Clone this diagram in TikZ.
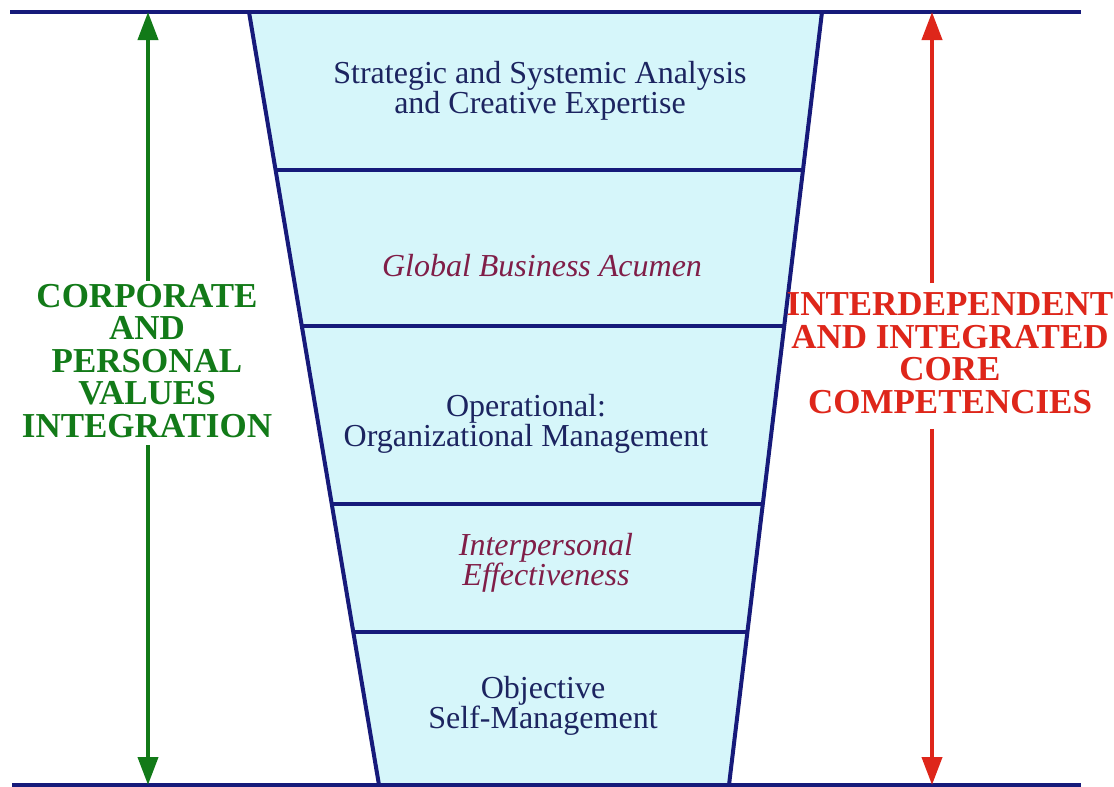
\documentclass[tikz,border=0pt]{standalone}
\usepackage{fontspec}
\setmainfont{Liberation Serif}
\usepackage{xcolor}
\usetikzlibrary{arrows.meta,calc}

\definecolor{navy}{RGB}{22,26,122}
\definecolor{funnelfill}{RGB}{214,246,250}
\definecolor{valgreen}{RGB}{18,122,24}
\definecolor{compred}{RGB}{222,38,26}
\definecolor{textnavy}{RGB}{28,36,96}
\definecolor{acumen}{RGB}{128,30,72}

\tikzset{
	level/.style={text=textnavy, align=center, font=\fontsize{32}{30}\selectfont},
	levelit/.style={level, text=acumen, font=\fontsize{32}{30}\selectfont\itshape},
	side/.style={align=center, font=\fontsize{35}{32.5}\selectfont\bfseries},
	rule/.style={draw=navy, line width=4pt},
	span/.style={line width=4pt, -{Triangle[length=28pt,width=20pt]}},
}

\begin{document}
\begin{tikzpicture}[x=1pt,y=-1pt]
			\useasboundingbox (0,0) rectangle (1114,787);
			% corners of the funnel
			\coordinate (tl) at (249,12);
			\coordinate (tr) at (822,12);
			\coordinate (bl) at (379,785);
			\coordinate (br) at (729,785);
			% fill the funnel
			\fill[funnelfill] (tl) -- (tr) -- (br) -- (bl) -- cycle;
			% draw the funnel sides
			\draw[rule] (tl) -- (bl);
			\draw[rule] (tr) -- (br);
			% draw the dividers between the levels
			\foreach \y in {170,326,504,632}
			\draw[rule] ($(tl)!{(\y-12)/773}!(bl)$) -- ($(tr)!{(\y-12)/773}!(br)$);
			% draw the top and bottom rules
			\draw[rule] (10,12) -- (1081,12);
			\draw[rule] (12,785) -- (1081,785);
			
			% the levels
			\node[level] (strategic) at (540,91) {Strategic and Systemic Analysis\\and Creative Expertise};
			\node[levelit] (global) at (542,266) {Global Business Acumen};
			\node[level] (operational) at (526,424) {Operational:\\Organizational Management};
			\node[levelit] (interpersonal) at (546,563) {Interpersonal\\Effectiveness};
			\node[level] (objective) at (543,706) {Objective\\Self-Management};
			
			% left side label and arrow
			\node[side, text=valgreen] (values) at (147,361) {CORPORATE\\AND\\PERSONAL\\VALUES\\INTEGRATION};
			\coordinate (vtop) at (148,12);
			\coordinate (vbot) at (148,785);
			\draw[span, valgreen] (values.north -| vtop) -- (vtop);
			\draw[span, valgreen, shorten <=4pt] (values.south -| vbot) -- (vbot);
			
			% right side label and arrow
			\node[side, text=compred] (competencies) at (950,353) {INTERDEPENDENT\\AND INTEGRATED\\CORE\\COMPETENCIES};
			\coordinate (ctop) at (932,12);
			\coordinate (cbot) at (932,785);
			\draw[span, compred, shorten <=6pt] (competencies.north -| ctop) -- (ctop);
			\draw[span, compred, shorten <=12pt] (competencies.south -| cbot) -- (cbot);
\end{tikzpicture}
\end{document}
